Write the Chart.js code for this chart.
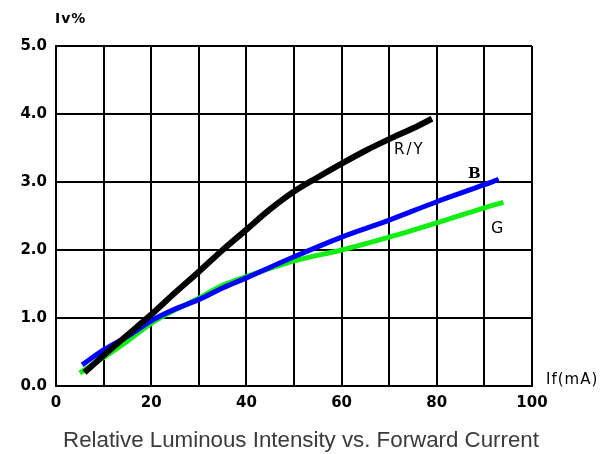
<!DOCTYPE html>
<html>
<head>
<meta charset="utf-8">
<script src="https://cdn.jsdelivr.net/npm/chart.js@4/dist/chart.umd.min.js"></script>
<style>
  html, body { margin: 0; padding: 0; background: #fff; }
  #wrap { width: 607px; height: 454px; }
</style>
</head>
<body>
<div id="wrap"><canvas id="c"></canvas></div>
<script>
// R/Y curve (If mA, Iv relative)
const ryCurrent = [6, 10, 15, 20, 25, 30, 35, 40, 45, 50, 55, 60, 65, 70, 75, 79];
const ryIntensity = [0.2, 0.45, 0.75, 1.05, 1.37, 1.68, 2.0, 2.3, 2.6, 2.86, 3.07, 3.27, 3.46, 3.63, 3.79, 3.93];

// B curve
const bCurrent = [5.5, 10, 15, 20, 25, 30, 35, 40, 50, 60, 70, 80, 90, 93];
const bIntensity = [0.31, 0.53, 0.73, 0.96, 1.13, 1.27, 1.44, 1.59, 1.9, 2.19, 2.44, 2.71, 2.96, 3.04];

// G curve
const gCurrent = [5, 10, 15, 20, 25, 30, 35, 40, 50, 60, 70, 80, 90, 94];
const gIntensity = [0.19, 0.42, 0.66, 0.92, 1.12, 1.29, 1.48, 1.61, 1.84, 2.0, 2.19, 2.4, 2.62, 2.7];

const xTickLabels = [0, 20, 40, 60, 80, 100];
const yTickLabels = [0, 1, 2, 3, 4, 5];

const toPoints = (xs, ys) => xs.map((x, i) => ({ x: x, y: ys[i] }));

const tickFont = { family: 'DejaVu Sans', size: 15, weight: 'bold' };

// extra texts: axis names, curve names, caption
const textPlugin = {
    id: 'texts',
    afterDraw(chart) {
        const ctx = chart.ctx;
        ctx.save();
        ctx.fillStyle = '#000';
        ctx.textBaseline = 'alphabetic';
        ctx.textAlign = 'left';
        ctx.letterSpacing = '1px';
        ctx.font = 'bold 14px "DejaVu Sans"';
        ctx.fillText('Iv%', 55, 23);
        ctx.font = '15px "DejaVu Sans"';
        ctx.fillText('If(mA)', 546, 384);
        ctx.letterSpacing = '2px';
        ctx.font = '15px "DejaVu Sans"';
        ctx.fillText('R/Y', 394, 154);
        ctx.font = 'bold 15px "DejaVu Serif"';
        ctx.letterSpacing = '0px';
        ctx.fillText('B', 468, 178);
        ctx.font = '16px "DejaVu Sans"';
        ctx.fillText('G', 491, 233);
        ctx.fillStyle = '#3a3a3a';
        ctx.font = '22.3px "Liberation Sans"';
        ctx.textAlign = 'center';
        ctx.fillText('Relative Luminous Intensity vs. Forward Current', 301, 447);
        ctx.restore();
    }
};

new Chart(document.getElementById('c'), {
    type: 'scatter',
    data: {
        datasets: [
            { label: 'R/Y', data: toPoints(ryCurrent, ryIntensity), borderColor: '#000000', borderWidth: 6 },
            { label: 'B', data: toPoints(bCurrent, bIntensity), borderColor: '#0000ff', borderWidth: 5 },
            { label: 'G', data: toPoints(gCurrent, gIntensity), borderColor: '#11ee11', borderWidth: 5 }
        ].map(ds => ({
            ...ds,
            showLine: true,
            pointRadius: 0,
            tension: 0.4,
            cubicInterpolationMode: 'monotone',
            borderCapStyle: 'butt'
        }))
    },
    options: {
        responsive: true,
        maintainAspectRatio: false,
        animation: false,
        layout: { padding: { left: 0, top: 46, right: 75, bottom: 0 } },
        plugins: {
            legend: { display: false },
            tooltip: { enabled: false }
        },
        scales: {
            x: {
                type: 'linear',
                min: 0,
                max: 100,
                afterFit: s => { s.height = 68; },
                ticks: {
                    stepSize: 10,
                    color: '#000',
                    font: tickFont,
                    padding: 8,
                    maxRotation: 0,
                    autoSkip: false,
                    callback: v => xTickLabels.includes(v) ? String(v) : ''
                },
                grid: { color: '#000', lineWidth: 2, drawTicks: false },
                border: { color: '#000', width: 2 }
            },
            y: {
                type: 'linear',
                min: 0,
                max: 5,
                afterFit: s => { s.width = 56; },
                ticks: {
                    stepSize: 1,
                    color: '#000',
                    font: tickFont,
                    padding: 9,
                    callback: v => yTickLabels.includes(v) ? v.toFixed(1) : ''
                },
                grid: { color: '#000', lineWidth: 2, drawTicks: false },
                border: { color: '#000', width: 2 }
            }
        }
    },
    plugins: [textPlugin]
});
</script>
</body>
</html>
